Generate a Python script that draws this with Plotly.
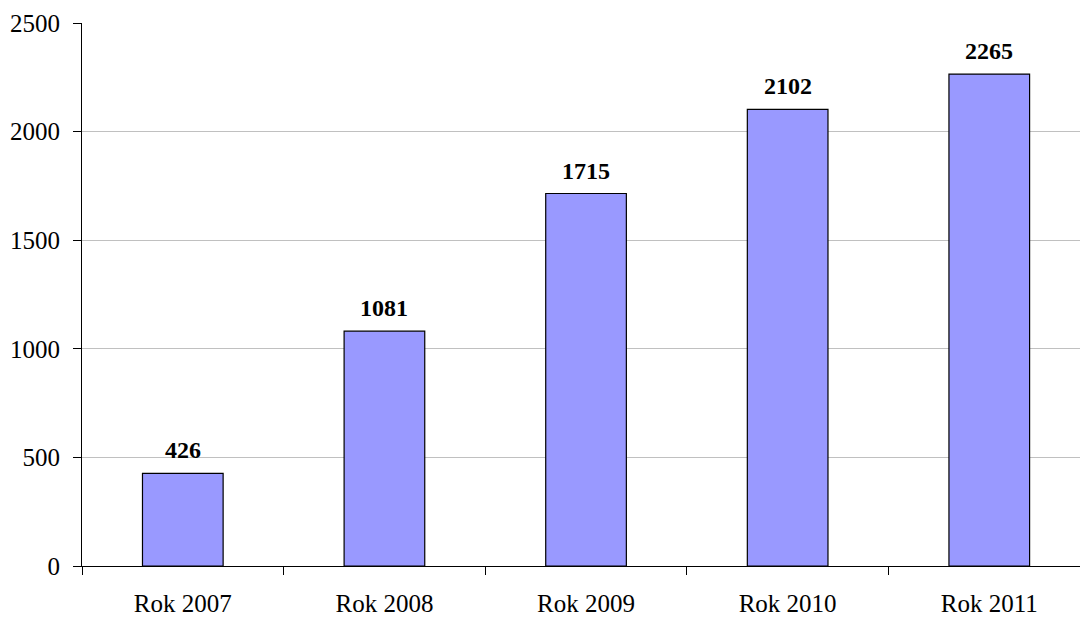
import plotly.graph_objects as go

categories = ["Rok 2007", "Rok 2008", "Rok 2009", "Rok 2010", "Rok 2011"]
values = [426, 1081, 1715, 2102, 2265]
y_ticks = [0, 500, 1000, 1500, 2000, 2500]

font_family = "Liberation Serif"

fig = go.Figure(
    go.Bar(
        x=categories,
        y=values,
        width=0.4,
        marker=dict(color="#9999FF", line=dict(color="#000000", width=1.2)),
        hoverinfo="x+y",
    )
)

# value labels above each bar
for cat, val in zip(categories, values):
    fig.add_annotation(
        x=cat,
        y=val,
        text=f"<b>{val}</b>",
        showarrow=False,
        yanchor="bottom",
        yshift=8,
        font=dict(family=font_family, size=24, color="#000000"),
    )

fig.update_layout(
    width=1080,
    height=617,
    margin=dict(l=82, r=0, t=23, b=51),
    paper_bgcolor="white",
    plot_bgcolor="white",
    showlegend=False,
    font=dict(family=font_family, size=25, color="#000000"),
)

fig.update_xaxes(
    type="category",
    range=[-0.5, 4.45],
    automargin=False,
    showline=True,
    linecolor="#000000",
    linewidth=1,
    ticks="outside",
    tickson="boundaries",
    ticklen=8,
    tickcolor="#000000",
    showgrid=False,
    ticklabelstandoff=15,
    tickfont=dict(family=font_family, size=25),
)

fig.update_yaxes(
    range=[0, 2500],
    tickvals=y_ticks,
    automargin=False,
    showline=True,
    linecolor="#000000",
    linewidth=1,
    ticks="outside",
    ticklen=8,
    tickcolor="#000000",
    showgrid=True,
    gridcolor="#C0C0C0",
    gridwidth=1,
    zeroline=False,
    ticklabelstandoff=8,
    tickfont=dict(family=font_family, size=25),
)

fig.write_html("out.html")
